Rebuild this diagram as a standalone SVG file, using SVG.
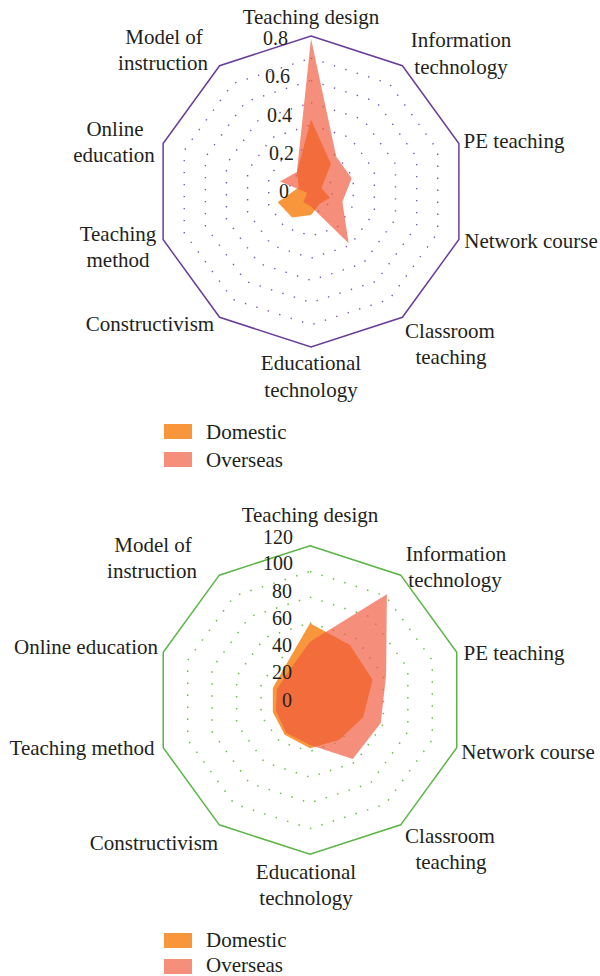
<svg xmlns="http://www.w3.org/2000/svg" width="600" height="976" viewBox="0 0 600 976">
<style>
text{font-family:"Liberation Serif","DejaVu Serif",serif;fill:#231f20}
.lbl{font-size:21px;text-anchor:middle}
.lbll{font-size:21px;text-anchor:start}
.tick{font-size:20px;text-anchor:end}
.ringP{fill:none;stroke:#7d52b8;stroke-width:1.4;stroke-dasharray:1.4 10.6}
.ringG{fill:none;stroke:#66c244;stroke-width:1.5;stroke-dasharray:1.5 10.5}
.outerP{fill:none;stroke:#6a3d9a;stroke-width:1.5}
.outerG{fill:none;stroke:#5bb646;stroke-width:1.5}
.dom{fill:#f7963a}
.ovs{fill:#f05a3e;fill-opacity:0.68}
</style>
<rect width="600" height="976" fill="#ffffff"/>

<g id="chart-top">
  <g id="grid-top">
    <polygon class="ringP" points="311,169.29 324.06,173.53 332.12,184.64 332.12,198.36 324.06,209.47 311,213.71 297.94,209.47 289.88,198.36 289.88,184.64 297.94,173.53"/>
    <polygon class="ringP" points="311,147.07 337.12,155.56 353.26,177.77 353.26,205.23 337.12,227.44 311,235.93 284.88,227.44 268.74,205.23 268.74,177.77 284.88,155.56"/>
    <polygon class="ringP" points="311,124.86 350.17,137.59 374.38,170.91 374.38,212.09 350.17,245.41 311,258.14 271.83,245.41 247.62,212.09 247.62,170.91 271.83,137.59"/>
    <polygon class="ringP" points="311,102.64 363.23,119.61 395.51,164.04 395.51,218.96 363.23,263.39 311,280.36 258.77,263.39 226.49,218.96 226.49,164.04 258.77,119.61"/>
    <polygon class="ringP" points="311,80.43 376.29,101.64 416.64,157.18 416.64,225.82 376.29,281.36 311,302.57 245.71,281.36 205.36,225.82 205.36,157.18 245.71,101.64"/>
    <polygon class="ringP" points="311,58.21 389.35,83.67 437.77,150.31 437.77,232.69 389.35,299.33 311,324.79 232.65,299.33 184.23,232.69 184.23,150.31 232.65,83.67"/>
    <polygon class="outerP" points="311,36 402.4,65.7 458.9,143.45 458.9,239.55 402.4,317.3 311,347 219.6,317.3 163.1,239.55 163.1,143.45 219.6,65.7"/>
  </g>
  <g id="series-top">
    <polygon id="top-domestic" class="dom" points="311,119.5 330.99,163.99 321.46,188.1 330.02,197.68 319.82,203.64 311,215 292.19,217.39 277.71,202.32 298.64,187.48 296.89,172.08"/>
    <polygon id="top-overseas" class="ovs" points="311,38.5 336.28,156.71 351.71,178.27 342.39,201.7 348.62,243.28 311,206.5 303.36,202.02 307.2,192.74 279.9,181.4 296.89,172.08"/>
  </g>
  <g id="ticks-top">
    <text class="tick" x="288" y="45">0.8</text>
    <text class="tick" x="290" y="83">0.6</text>
    <text class="tick" x="292" y="122">0.4</text>
    <text class="tick" x="294" y="160">0.2</text>
    <text class="tick" x="289" y="198">0</text>
  </g>
  <g id="top-label-teaching-design"><text class="lbl" x="311" y="24">Teaching design</text></g>
  <g id="top-label-information-technology"><text class="lbl" x="461" y="47">Information</text><text class="lbl" x="461" y="74">technology</text></g>
  <g id="top-label-pe-teaching"><text class="lbl" x="514" y="148">PE teaching</text></g>
  <g id="top-label-network-course"><text class="lbl" x="531" y="248">Network course</text></g>
  <g id="top-label-classroom-teaching"><text class="lbl" x="450" y="338">Classroom</text><text class="lbl" x="451" y="364">teaching</text></g>
  <g id="top-label-educational-technology"><text class="lbl" x="311" y="370">Educational</text><text class="lbl" x="311" y="397">technology</text></g>
  <g id="top-label-constructivism"><text class="lbl" x="150" y="331">Constructivism</text></g>
  <g id="top-label-teaching-method"><text class="lbl" x="118" y="241">Teaching</text><text class="lbl" x="118" y="267">method</text></g>
  <g id="top-label-online-education"><text class="lbl" x="115" y="136">Online</text><text class="lbl" x="114" y="162">education</text></g>
  <g id="top-label-model-of-instruction"><text class="lbl" x="164" y="44">Model of</text><text class="lbl" x="163" y="70">instruction</text></g>
  <g id="legend-top">
    <rect class="dom" x="164" y="424" width="28" height="15"/>
    <text class="lbll" x="206" y="439">Domestic</text>
    <rect class="ovs" x="164" y="452" width="28" height="15"/>
    <text class="lbll" x="206" y="467">Overseas</text>
  </g>
</g>

<g id="chart-bottom">
  <g id="grid-bottom">
    <polygon class="ringG" points="310,674.28 325.12,679.19 334.46,692.05 334.46,707.95 325.12,720.81 310,725.72 294.88,720.81 285.54,707.95 285.54,692.05 294.88,679.19"/>
    <polygon class="ringG" points="310,648.57 340.23,658.39 358.92,684.11 358.92,715.89 340.23,741.61 310,751.43 279.77,741.61 261.08,715.89 261.08,684.11 279.77,658.39"/>
    <polygon class="ringG" points="310,622.85 355.35,637.59 383.38,676.16 383.38,723.84 355.35,762.41 310,777.15 264.65,762.41 236.62,723.84 236.62,676.16 264.65,637.59"/>
    <polygon class="ringG" points="310,597.13 370.47,616.78 407.84,668.21 407.84,731.79 370.47,783.22 310,802.87 249.53,783.22 212.16,731.79 212.16,668.21 249.53,616.78"/>
    <polygon class="ringG" points="310,571.42 385.58,595.98 432.29,660.27 432.29,739.73 385.58,804.02 310,828.58 234.42,804.02 187.71,739.73 187.71,660.27 234.42,595.98"/>
    <polygon class="outerG" points="310,545.7 400.7,575.17 456.75,652.32 456.75,747.68 400.7,824.83 310,854.3 219.3,824.83 163.25,747.68 163.25,652.32 219.3,575.17"/>
  </g>
  <g id="series-bottom">
    <polygon id="bottom-domestic" class="dom" points="310,623.3 349.97,644.99 372.58,679.67 363.17,717.27 339.04,739.96 310,748.3 284.72,734.79 272.81,712.08 272.81,687.92 285.31,666.02"/>
    <polygon id="bottom-overseas" class="ovs" points="310,641.7 386.88,594.18 386.09,675.28 380.76,722.99 352.79,758.9 310,745 286.14,732.85 275.95,711.06 276.9,689.25 288.84,670.88"/>
  </g>
  <g id="ticks-bottom">
    <text class="tick" x="293" y="544">120</text>
    <text class="tick" x="293" y="570">100</text>
    <text class="tick" x="292" y="598">80</text>
    <text class="tick" x="292" y="625">60</text>
    <text class="tick" x="292" y="652">40</text>
    <text class="tick" x="292" y="679">20</text>
    <text class="tick" x="292" y="707">0</text>
  </g>
  <g id="bottom-label-teaching-design"><text class="lbl" x="310" y="522">Teaching design</text></g>
  <g id="bottom-label-information-technology"><text class="lbl" x="456" y="561">Information</text><text class="lbl" x="455" y="587">technology</text></g>
  <g id="bottom-label-pe-teaching"><text class="lbl" x="514" y="660">PE teaching</text></g>
  <g id="bottom-label-network-course"><text class="lbl" x="528" y="759">Network course</text></g>
  <g id="bottom-label-classroom-teaching"><text class="lbl" x="450" y="843">Classroom</text><text class="lbl" x="451" y="869">teaching</text></g>
  <g id="bottom-label-educational-technology"><text class="lbl" x="306" y="879">Educational</text><text class="lbl" x="306" y="905">technology</text></g>
  <g id="bottom-label-constructivism"><text class="lbl" x="154" y="850">Constructivism</text></g>
  <g id="bottom-label-teaching-method"><text class="lbl" x="82" y="755">Teaching method</text></g>
  <g id="bottom-label-online-education"><text class="lbl" x="86" y="654">Online education</text></g>
  <g id="bottom-label-model-of-instruction"><text class="lbl" x="153" y="552">Model of</text><text class="lbl" x="152" y="578">instruction</text></g>
  <g id="legend-bottom">
    <rect class="dom" x="164" y="933" width="28" height="15"/>
    <text class="lbll" x="206" y="947">Domestic</text>
    <rect class="ovs" x="164" y="959" width="28" height="15"/>
    <text class="lbll" x="206" y="972">Overseas</text>
  </g>
</g>
</svg>
